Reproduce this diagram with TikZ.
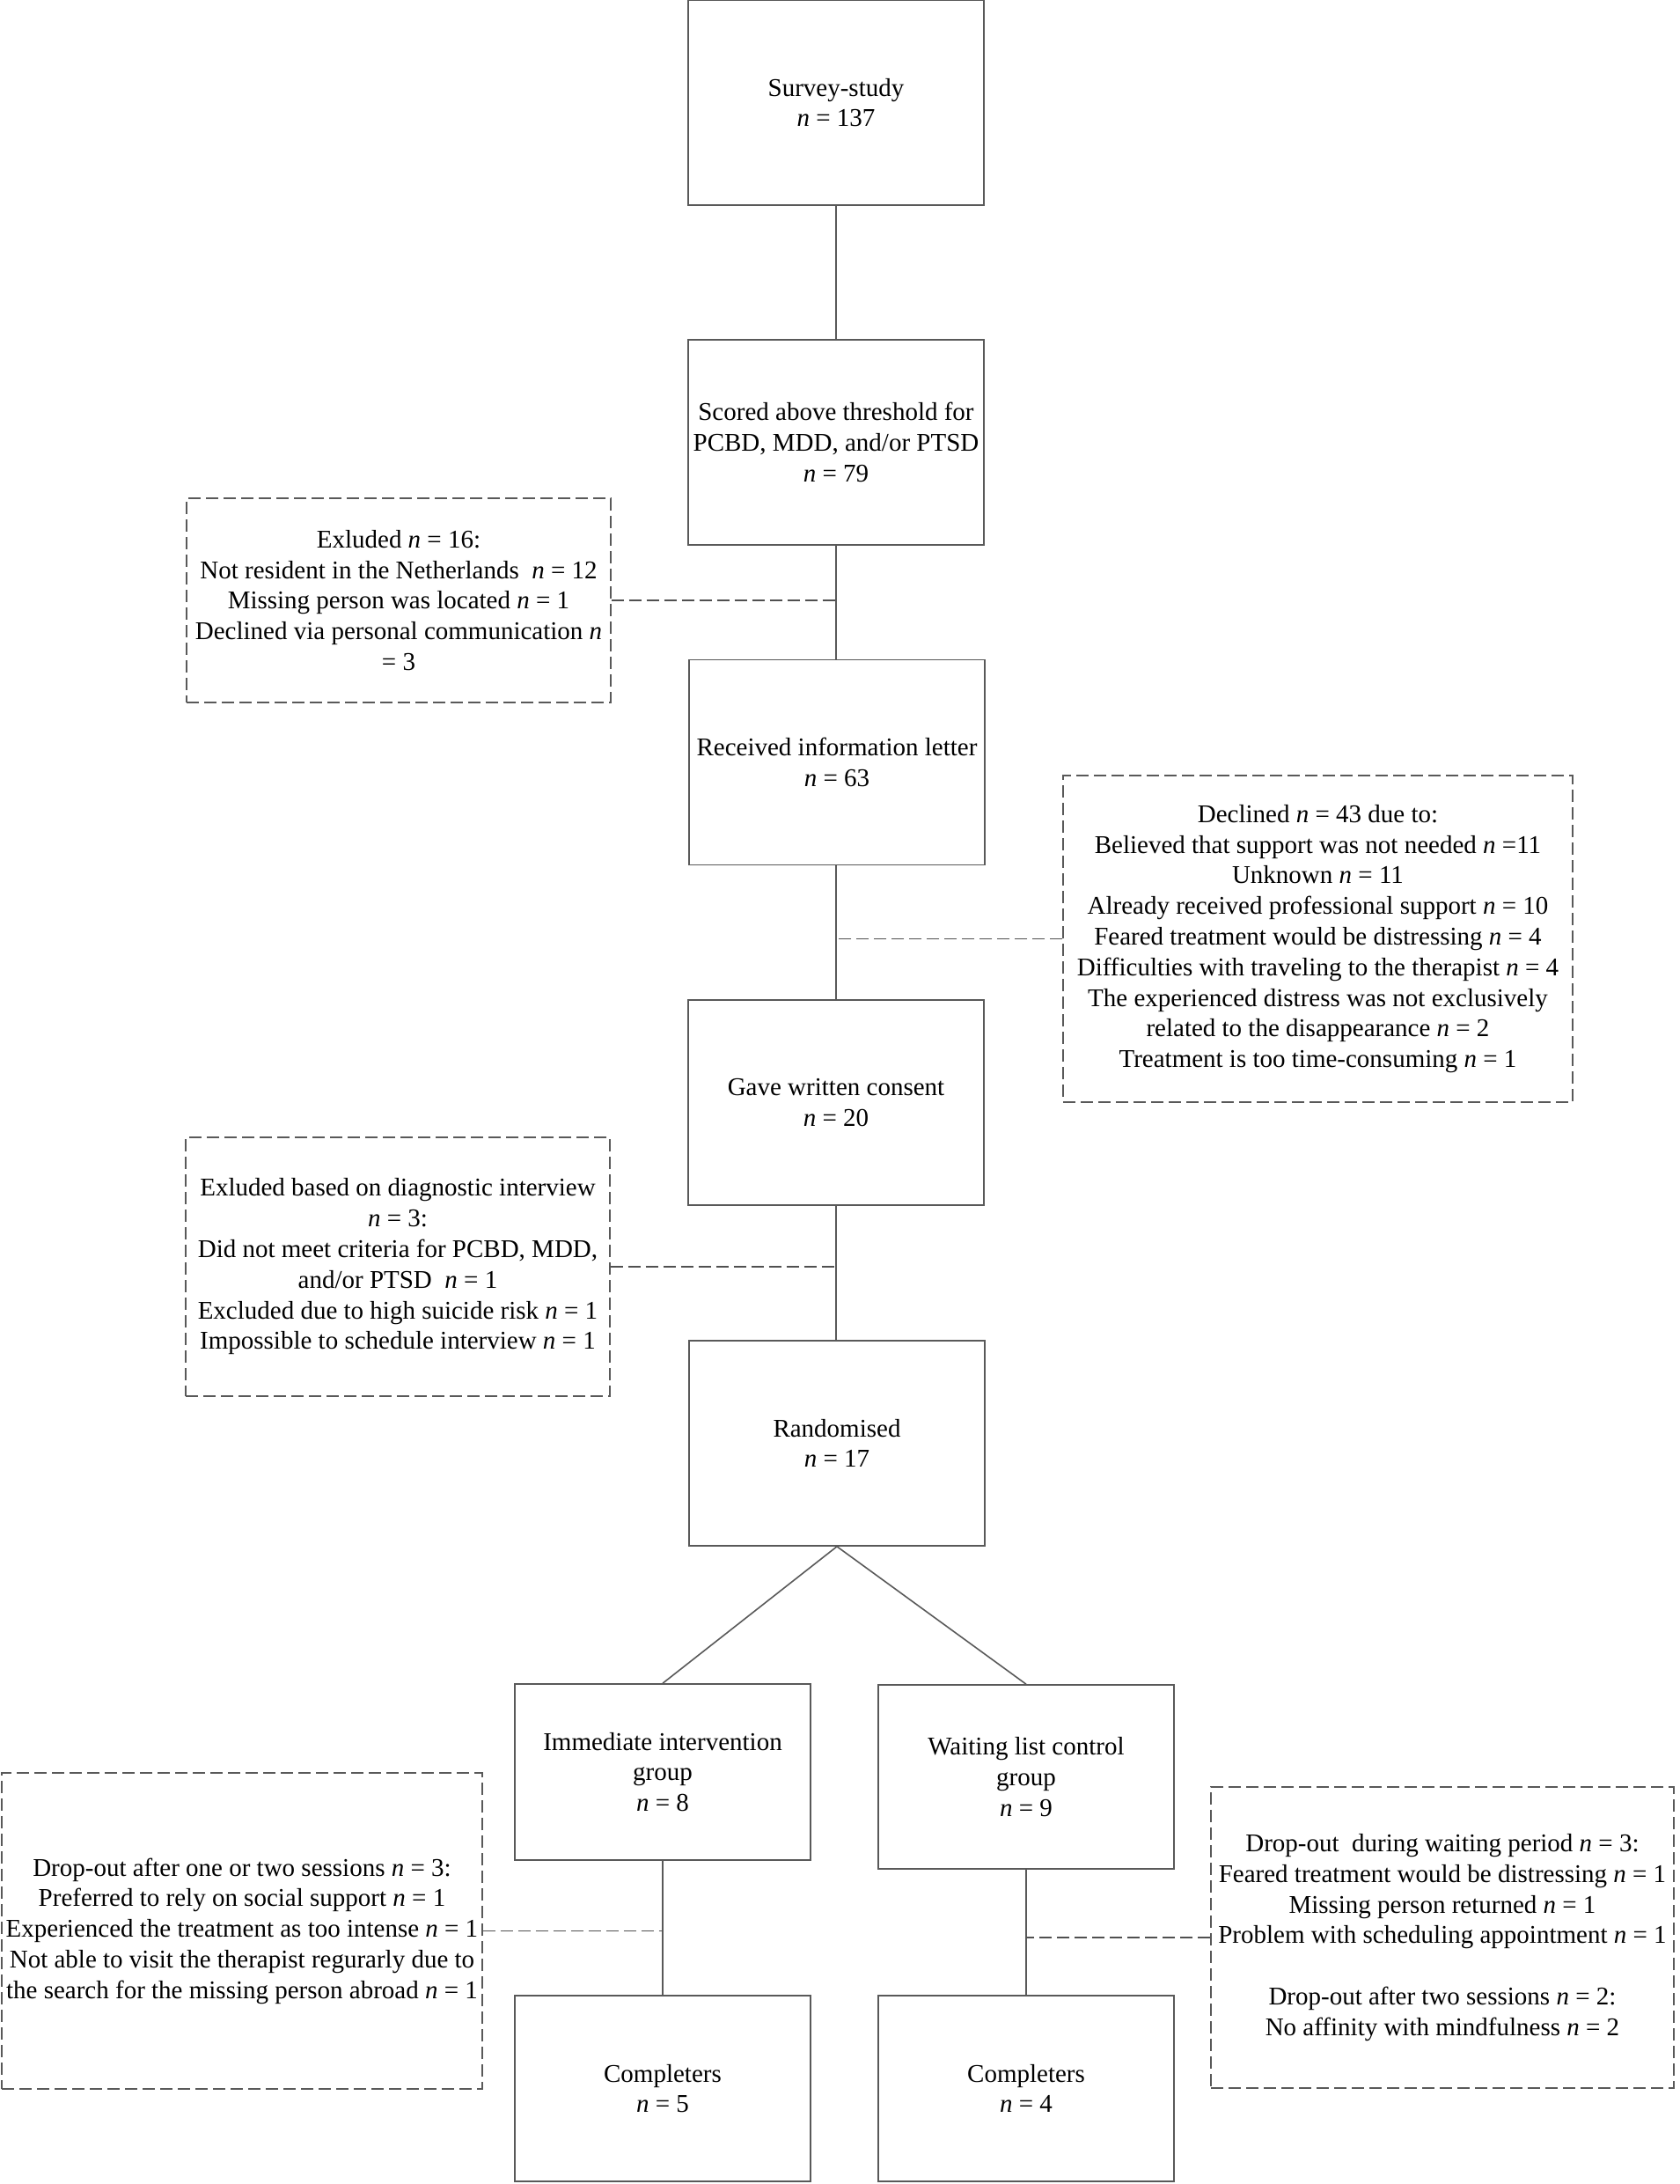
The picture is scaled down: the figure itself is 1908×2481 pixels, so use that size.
\documentclass[tikz,border=0pt]{standalone}
\usepackage{fontspec}
\setmainfont{Liberation Serif}
\usepackage{xcolor}
\definecolor{edgegray}{HTML}{595959}

\begin{document}
\begin{tikzpicture}[x=0.5pt, y=-0.5pt,
  font=\fontsize{14.5}{17.4}\selectfont,
  box/.style={draw=edgegray, line width=0.8pt, rectangle, align=center, inner sep=0pt, minimum width=168pt, minimum height=116.5pt},
  note/.style={draw=edgegray, line width=0.6pt, dash pattern=on 7pt off 3pt, rectangle, align=center, inner sep=0pt},
  link/.style={draw=edgegray, line width=0.8pt},
  dlink/.style={draw=edgegray!90!black, line width=0.9pt, dash pattern=on 7pt off 3pt}]
  \useasboundingbox (0,0) rectangle (1908,2481);

  % Define blocks
  \node [box] (survey) at (950,116.5) {Survey-study\\\textit{n} = 137};
  \node [box] (scored) at (950,502.5) {Scored above threshold for\\PCBD, MDD, and/or PTSD\\\textit{n} = 79};
  \node [box] (letter) at (951,866) {Received information letter\\\textit{n} = 63};
  \node [box] (consent) at (950,1252.5) {Gave written consent\\\textit{n} = 20};
  \node [box] (random) at (951,1639.5) {Randomised\\\textit{n} = 17};
  \node [box, minimum height=100pt] (immed) at (753,2013) {Immediate intervention\\group\\\textit{n} = 8};
  \node [box, minimum height=104.5pt] (wait) at (1166,2018.5) {Waiting list control\\group\\\textit{n} = 9};
  \node [box, minimum height=105.5pt] (doneI) at (753,2372.5) {Completers\\\textit{n} = 5};
  \node [box, minimum height=105.5pt] (doneW) at (1166,2372.5) {Completers\\\textit{n} = 4};

  % Define side notes
  \node [note, minimum width=241pt, minimum height=116pt] (excl1) at (453,682) {Exluded \textit{n} = 16:\\Not resident in the Netherlands~~\textit{n} = 12\\Missing person was located \textit{n} = 1\\Declined via personal communication \textit{n}\\= 3};
  \node [note, minimum width=289.5pt, minimum height=185.5pt] (declined) at (1497.5,1066.5) {Declined \textit{n} = 43 due to:\\Believed that support was not needed \textit{n} =11\\Unknown \textit{n} = 11\\Already received professional support \textit{n} = 10\\Feared treatment would be distressing \textit{n} = 4\\Difficulties with traveling to the therapist \textit{n} = 4\\The experienced distress was not exclusively\\related to the disappearance \textit{n} = 2\\Treatment is too time-consuming \textit{n} = 1};
  \node [note, minimum width=241pt, minimum height=147pt] (excl2) at (452,1439) {Exluded based on diagnostic interview\\\textit{n} = 3:\\Did not meet criteria for PCBD, MDD,\\and/or PTSD~~\textit{n} = 1\\Excluded due to high suicide risk \textit{n} = 1\\Impossible to schedule interview \textit{n} = 1};
  \node [note, minimum width=273pt, minimum height=179.5pt] (dropI) at (275,2193.5) {Drop-out after one or two sessions \textit{n} = 3:\\Preferred to rely on social support \textit{n} = 1\\Experienced the treatment as too intense \textit{n} = 1\\Not able to visit the therapist regurarly due to\\the search for the missing person abroad \textit{n} = 1};
  \node [note, minimum width=263pt, minimum height=171pt] (dropW) at (1639,2201) {Drop-out~~during waiting period \textit{n} = 3:\\Feared treatment would be distressing \textit{n} = 1\\Missing person returned \textit{n} = 1\\Problem with scheduling appointment \textit{n} = 1\\[17.4pt]Drop-out after two sessions \textit{n} = 2:\\No affinity with mindfulness \textit{n} = 2};

  % Connect blocks with lines
  \draw [link] (survey) -- (scored);
  \draw [link] (scored.south) -- (scored.south |- letter.north);
  \draw [link] (consent.north |- letter.south) -- (consent.north);
  \draw [link] (consent.south) -- (consent.south |- random.north);
  \draw [link] (random.south) -- (immed.north);
  \draw [link] (random.south) -- (wait.north);
  \draw [link] (immed) -- (doneI);
  \draw [link] (wait) -- (doneW);

  % Connect notes with dashed lines
  \draw [dlink] (excl1.east) -- (excl1.east -| scored.south);
  \draw [dlink] (declined.west) -- (declined.west -| consent.north);
  \draw [dlink] (excl2.east) -- (excl2.east -| consent.south);
  \draw [dlink] (dropI.east) -- (dropI.east -| immed.south);
  \draw [dlink] (dropW.west) -- (dropW.west -| wait.south);
\end{tikzpicture}
\end{document}
